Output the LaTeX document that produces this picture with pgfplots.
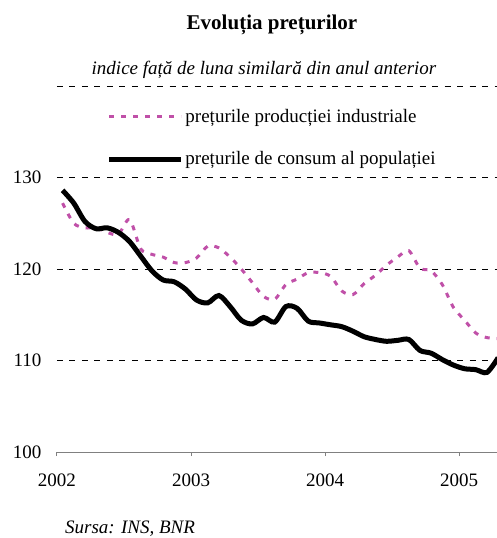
\documentclass[border=0pt]{standalone}
\usepackage{fontspec}
\setmainfont{Liberation Serif}
\usepackage{pgfplots}
\pgfplotsset{compat=1.18}
\definecolor{ppi}{RGB}{192,80,168}
\definecolor{axgray}{RGB}{128,128,128}
\newcommand{\fs}{\fontsize{19}{23}\selectfont}
\begin{document}
\begin{tikzpicture}[x=1pt,y=1pt]
\path[use as bounding box] (-57,-86) rectangle (440,452);
\begin{axis}[
  at={(0,0)}, anchor=origin,
  width=440pt, height=366pt, scale only axis,
  xmin=0, xmax=39.4, ymin=100, ymax=140,
  axis x line*=bottom, axis y line*=left,
  y axis line style={draw=none},
  x axis line style={draw=axgray, line width=1pt, -},
  xtick={0,12,24,36}, xticklabels={2002,2003,2004,2005},
  xtick align=outside, major tick length=4pt,
  x tick style={draw=axgray, line width=1pt},
  ytick={100,110,120,130,140}, yticklabels={100,110,120,130,{}},
  y tick style={draw=none},
  ymajorgrids, y grid style={black, line width=0.8pt, dash pattern=on 6pt off 6.5pt},
  /pgf/number format/assume math mode=true,
  tick label style={font=\fs, text=black},
  xticklabel style={yshift=-14pt},
  yticklabel style={xshift=-12pt},
  clip=true,
  legend style={at={(axis cs:1.95,138.7)}, anchor=north west, fill=white, draw=none,
    font=\fs, inner xsep=28pt, inner ysep=9pt, row sep=24pt,
    nodes={inner xsep=1.5pt}},
  legend cell align=left,
  legend image code/.code={\draw[#1] (0pt,0pt) -- (72pt,0pt);},
]
\addplot[ppi, line width=3pt, dash pattern=on 5pt off 7pt, smooth, tension=0.5] coordinates {
(0.5,127.2) (1.5,125.0) (2.5,124.5) (3.5,124.5) (4.5,124.0) (5.5,123.8)
(6.5,125.4) (7.5,122.2) (8.5,121.6) (9.5,121.3) (10.5,120.7) (11.5,120.7)
(12.5,121.2) (13.5,122.5) (14.5,122.3) (15.5,121.3) (16.5,120.0) (17.5,118.5)
(18.5,117.0) (19.5,116.7) (20.5,118.3) (21.5,118.9) (22.5,119.6) (23.5,119.6)
(24.5,119.2) (25.5,117.6) (26.5,117.2) (27.5,118.4) (28.5,119.3) (29.5,120.4)
(30.5,121.3) (31.5,122.0) (32.5,120.1) (33.5,119.8) (34.5,118.3) (35.5,115.8)
(36.5,114.4) (37.5,113.0) (38.5,112.5) (39.5,112.4)};
\addlegendentry{prețurile producției industriale}
\addplot[black, line width=5pt, smooth, tension=0.5] coordinates {
(0.5,128.6) (1.5,127.2) (2.5,125.2) (3.5,124.4) (4.5,124.5) (5.5,124.0)
(6.5,123.0) (7.5,121.4) (8.5,119.8) (9.5,118.8) (10.5,118.6) (11.5,117.8)
(12.5,116.6) (13.5,116.3) (14.5,117.1) (15.5,115.9) (16.5,114.4) (17.5,114.0)
(18.5,114.7) (19.5,114.2) (20.5,115.9) (21.5,115.7) (22.5,114.3) (23.5,114.1)
(24.5,113.9) (25.5,113.7) (26.5,113.2) (27.5,112.6) (28.5,112.3) (29.5,112.1)
(30.5,112.2) (31.5,112.3) (32.5,111.1) (33.5,110.8) (34.5,110.1) (35.5,109.5)
(36.5,109.1) (37.5,109.0) (38.5,108.7) (39.5,110.3)};
\addlegendentry{prețurile de consum al populației}
\end{axis}
\node[font=\fontsize{21}{25}\selectfont\bfseries] at (215,427) {Evoluția prețurilor};
\node[font=\fs\itshape] at (207,382) {indice față de luna similară din anul anterior};
\node[font=\fs\itshape, anchor=west, inner sep=0pt] at (8,-76.5) {Sursa: INS, BNR};
\end{tikzpicture}
\end{document}
